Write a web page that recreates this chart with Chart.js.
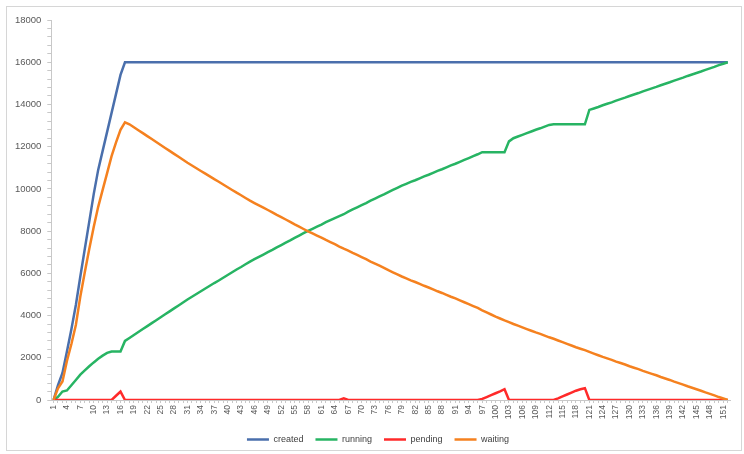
<!DOCTYPE html>
<html><head><meta charset="utf-8">
<script src="https://cdn.jsdelivr.net/npm/chart.js@4.4.1/dist/chart.umd.min.js"></script>
<style>html,body{margin:0;padding:0;background:#fff;}#wrap{position:absolute;left:0;top:0;width:744px;height:454px;}</style>
</head><body><div id="wrap"><canvas id="c"></canvas></div>
<script>
const categories = Array.from({length: 152}, (_, i) => String(i + 1));
const xLabelEvery = 3;
const yMin = 0, yMax = 18000, yMajorStep = 2000, yMinorStep = 400;

const created = [
  0,700,1280,2300,3350,4500,5850,7150,8450,9750,10900,11800,12700,13600,14500,15400,
  16000,16000,16000,16000,16000,16000,16000,16000,16000,16000,16000,16000,16000,16000,16000,16000,16000,
  16000,16000,16000,16000,16000,16000,16000,16000,16000,16000,16000,16000,16000,16000,16000,16000,16000,
  16000,16000,16000,16000,16000,16000,16000,16000,16000,16000,16000,16000,16000,16000,16000,16000,16000,
  16000,16000,16000,16000,16000,16000,16000,16000,16000,16000,16000,16000,16000,16000,16000,16000,16000,
  16000,16000,16000,16000,16000,16000,16000,16000,16000,16000,16000,16000,16000,16000,16000,16000,16000,
  16000,16000,16000,16000,16000,16000,16000,16000,16000,16000,16000,16000,16000,16000,16000,16000,16000,
  16000,16000,16000,16000,16000,16000,16000,16000,16000,16000,16000,16000,16000,16000,16000,16000,16000,
  16000,16000,16000,16000,16000,16000,16000,16000,16000,16000,16000,16000,16000,16000,16000,16000,16000
];

const running = [
  0,150,400,450,700,950,1200,1400,1600,1780,
  1950,2100,2230,2300,2300,2300,2800,2940,3080,3220,
  3360,3500,3640,3780,3920,4060,4200,4340,4480,4620,
  4760,4890,5020,5150,5280,5410,5540,5660,5790,5920,
  6050,6180,6300,6430,6555,6670,6780,6890,7000,7110,
  7230,7340,7450,7560,7680,7790,7900,8010,8110,8210,
  8310,8420,8520,8620,8710,8800,8920,9030,9130,9230,
  9330,9440,9540,9640,9740,9850,9950,10050,10150,10240,
  10330,10410,10500,10590,10670,10760,10850,10930,11020,11110,
  11190,11280,11370,11460,11550,11640,11740,11740,11740,11740,
  11740,11740,12250,12400,12480,12560,12640,12720,12800,12870,
  12950,13030,13060,13060,13060,13060,13060,13060,13060,13060,
  13740,13810,13880,13960,14030,14100,14180,14250,14320,14400,
  14470,14540,14620,14690,14760,14830,14910,14980,15050,15130,
  15200,15270,15350,15420,15490,15560,15640,15710,15780,15860,
  15930,16000
];

const pending = [
  0,0,0,0,0,0,0,0,0,0,
  0,0,0,0,200,400,0,0,0,0,
  0,0,0,0,0,0,0,0,0,0,
  0,0,0,0,0,0,0,0,0,0,
  0,0,0,0,0,0,0,0,0,0,
  0,0,0,0,0,0,0,0,0,0,
  0,0,0,0,0,80,0,0,0,0,
  0,0,0,0,0,0,0,0,0,0,
  0,0,0,0,0,0,0,0,0,0,
  0,0,0,0,0,0,50,140,230,320,
  410,510,0,0,0,0,0,0,0,0,
  0,0,0,80,170,260,350,440,510,560,
  0,0,0,0,0,0,0,0,0,0,
  0,0,0,0,0,0,0,0,0,0,
  0,0,0,0,0,0,0,0,0,0,
  0,0
];

const waiting = [
  0,550,880,1850,2650,3550,4900,6050,7150,8200,
  9150,9950,10750,11550,12200,12800,13150,13060,12920,12780,
  12640,12500,12360,12220,12080,11940,11800,11660,11520,11380,
  11240,11110,10980,10850,10720,10590,10460,10340,10210,10080,
  9950,9820,9700,9570,9445,9330,9220,9110,9000,8890,
  8770,8660,8550,8440,8320,8210,8100,7990,7890,7790,
  7690,7580,7480,7380,7270,7170,7080,6970,6870,6770,
  6670,6560,6460,6360,6260,6150,6050,5950,5850,5760,
  5670,5590,5500,5410,5330,5240,5150,5070,4980,4890,
  4810,4720,4630,4540,4450,4360,4250,4150,4050,3950,
  3860,3770,3690,3600,3520,3440,3360,3280,3200,3130,
  3050,2970,2900,2820,2740,2660,2580,2500,2430,2360,
  2280,2200,2120,2040,1970,1900,1820,1750,1680,1600,
  1530,1460,1380,1310,1240,1170,1090,1020,950,870,
  800,730,650,580,510,440,360,290,220,140,
  70,0
];

const frame = {
  id: 'frame',
  beforeDraw(chart) {
    const c = chart.ctx;
    c.save();
    c.fillStyle = '#ffffff';
    c.fillRect(0, 0, chart.width, chart.height);
    c.strokeStyle = '#d6d6d6';
    c.lineWidth = 1;
    c.strokeRect(6.5, 6.5, 735, 444);
    c.restore();
  },
  afterLayout(chart) {
    if (chart.legend) { chart.legend.left += 13; chart.legend.right += 13; }
  }
};

const FONT = "'Liberation Sans', Arial, sans-serif";

new Chart(document.getElementById('c'), {
  type: 'line',
  data: {
    labels: categories,
    datasets: [
      {label: 'created', data: created, borderColor: '#4a6fac', backgroundColor: '#4a6fac', order: 4},
      {label: 'running', data: running, borderColor: '#27b463', backgroundColor: '#27b463', order: 3},
      {label: 'pending', data: pending, borderColor: '#ff2a2a', backgroundColor: '#ff2a2a', order: 2},
      {label: 'waiting', data: waiting, borderColor: '#f5811f', backgroundColor: '#f5811f', order: 1}
    ]
  },
  options: {
    responsive: true,
    maintainAspectRatio: false,
    animation: false,
    elements: {point: {radius: 0, hoverRadius: 0}, line: {borderWidth: 2.5, tension: 0}},
    layout: {padding: {left: 0, right: 14, top: 20, bottom: 0}},
    plugins: {
      tooltip: {enabled: false},
      legend: {
        position: 'bottom',
        labels: {
          usePointStyle: true, pointStyle: 'line', pointStyleWidth: 22,
          font: {family: FONT, size: 9}, color: '#404040', padding: 12,
          generateLabels: chart => chart.data.datasets.map((ds, i) => ({
            text: ds.label, strokeStyle: ds.borderColor, fillStyle: ds.borderColor,
            lineWidth: 2.5, pointStyle: 'line', hidden: false, datasetIndex: i, fontColor: '#404040'
          }))
        }
      }
    },
    scales: {
      x: {
        offset: true,
        grid: {drawOnChartArea: false, drawTicks: true, tickLength: 3, color: '#c8c8c8'},
        border: {color: '#c8c8c8'},
        ticks: {
          autoSkip: false, minRotation: 90, maxRotation: 90, padding: 2,
          font: {family: FONT, size: 8.5}, color: '#595959',
          callback: (v, i) => (i % xLabelEvery === 0 ? categories[i] : '')
        },
        afterFit(s) { s.height = 23; }
      },
      y: {
        min: yMin, max: yMax,
        grid: {drawOnChartArea: false, drawTicks: true, tickLength: 4, color: '#c8c8c8'},
        border: {color: '#c8c8c8'},
        ticks: {
          stepSize: yMinorStep, autoSkip: false, padding: 6,
          font: {family: FONT, size: 9.5}, color: '#595959',
          callback: v => (v % yMajorStep === 0 ? String(v) : '')
        },
        afterFit(s) { s.width = 51.3; }
      }
    }
  },
  plugins: [frame]
});
</script>
</body></html>
